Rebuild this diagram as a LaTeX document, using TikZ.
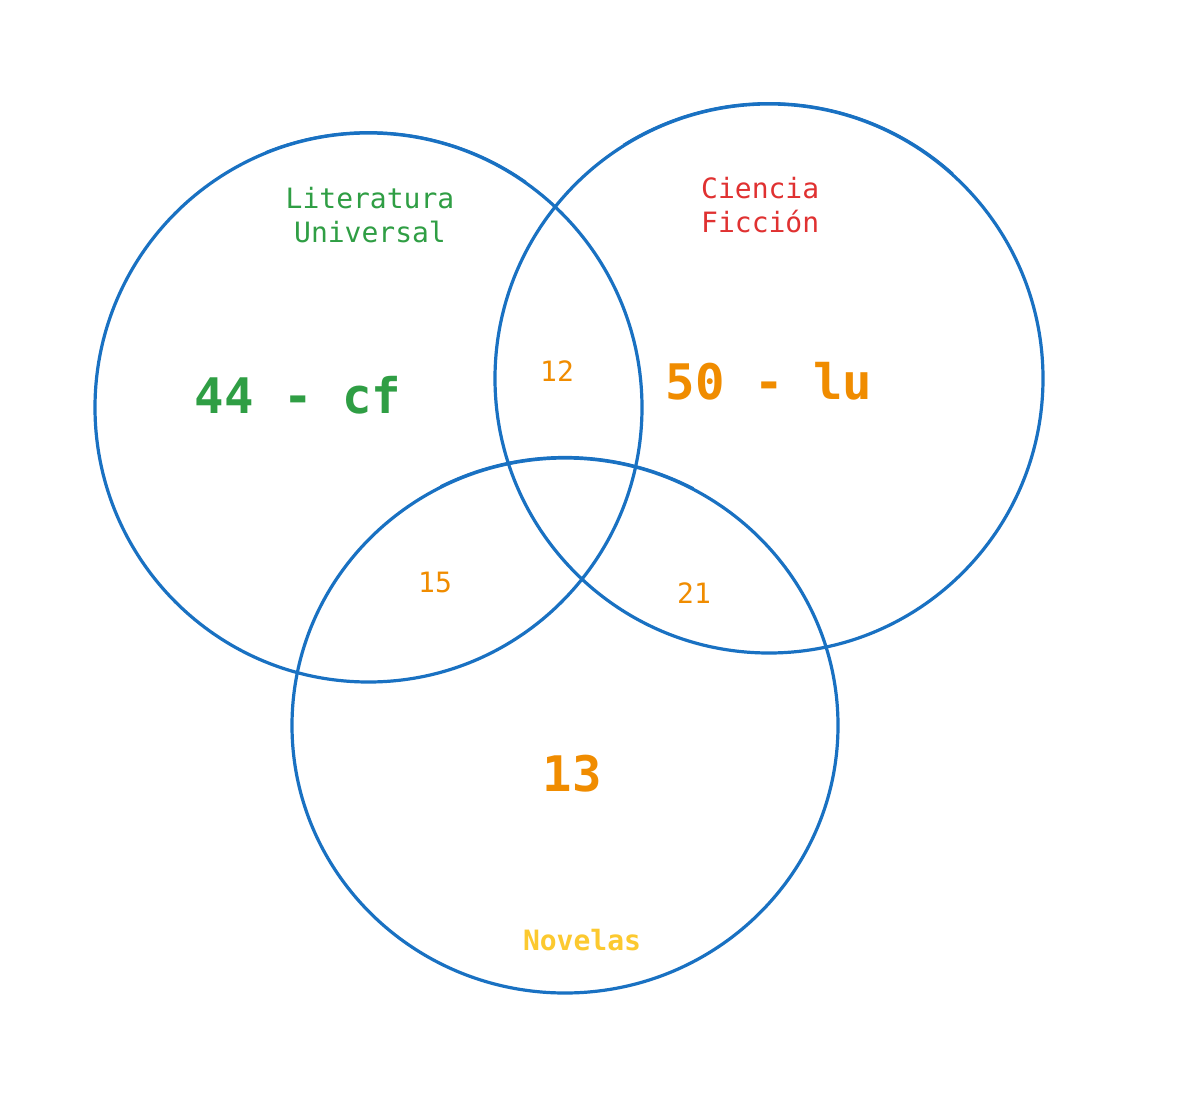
\documentclass[tikz,border=0pt]{standalone}
\usepackage{fontspec}
\setmonofont{DejaVu Sans Mono}
\usetikzlibrary{shapes.geometric}
\definecolor{vblue}{HTML}{1971C2}
\definecolor{vgreen}{HTML}{2F9E44}
\definecolor{vred}{HTML}{E03131}
\definecolor{vorange}{HTML}{F08C00}
\definecolor{vyellow}{HTML}{FCC92F}
\tikzset{
  setcircle/.style={ellipse, draw=vblue, line width=3.2pt, inner sep=0pt},
  sketch/.style={draw=vblue, line width=2.2pt},
  smalllabel/.style={inner sep=0pt, font=\ttfamily\fontsize{28}{34}\selectfont},
  biglabel/.style={inner sep=0pt, font=\ttfamily\bfseries\fontsize{49}{58}\selectfont},
  midlabel/.style={inner sep=0pt, font=\ttfamily\fontsize{28}{34}\selectfont, text=vorange}
}
\begin{document}
\begin{tikzpicture}[x=1pt,y=-1pt]
\useasboundingbox[fill=white] (0,0) rectangle (1200,1102);
% circles
\node[setcircle, minimum width=547pt, minimum height=549pt] (lu) at (368.5,407.5) {};
\node[setcircle, minimum width=548pt, minimum height=549pt] (cf) at (769,378.5) {};
\node[setcircle, minimum width=546pt, minimum height=535pt] (nv) at (565,725.5) {};
% sketchy overshoot strokes
\draw[sketch] (lu.center) ++(112:274.5pt and 275.3pt) arc[start angle=112, end angle=55, x radius=274.5pt, y radius=275.3pt];
\draw[sketch] (cf.center) ++(122:275pt and 275.4pt) arc[start angle=122, end angle=48, x radius=275pt, y radius=275.4pt];
\draw[sketch] (nv.center) ++(117:274pt and 268.5pt) arc[start angle=117, end angle=62, x radius=274pt, y radius=268.5pt];
% labels
\node[smalllabel, text=vgreen, align=center] (lulabel) at (370,215) {Literatura\\Universal};
\node[smalllabel, text=vred, align=left, anchor=west] (cflabel) at (701,205) {Ciencia\\Ficción};
\node[smalllabel, text=vyellow, font=\ttfamily\bfseries\fontsize{28}{34}\selectfont] (nvlabel) at (582,940) {Novelas};
\node[biglabel, text=vgreen] (lucount) at (298,395) {44 - cf};
\node[biglabel, text=vorange] (cfcount) at (769,381) {50 - lu};
\node[biglabel, text=vorange] (nvcount) at (572,774) {13};
\node[midlabel] (i12) at (557,371) {12};
\node[midlabel] (i15) at (435,582) {15};
\node[midlabel] (i21) at (694,593) {21};
\end{tikzpicture}
\end{document}
